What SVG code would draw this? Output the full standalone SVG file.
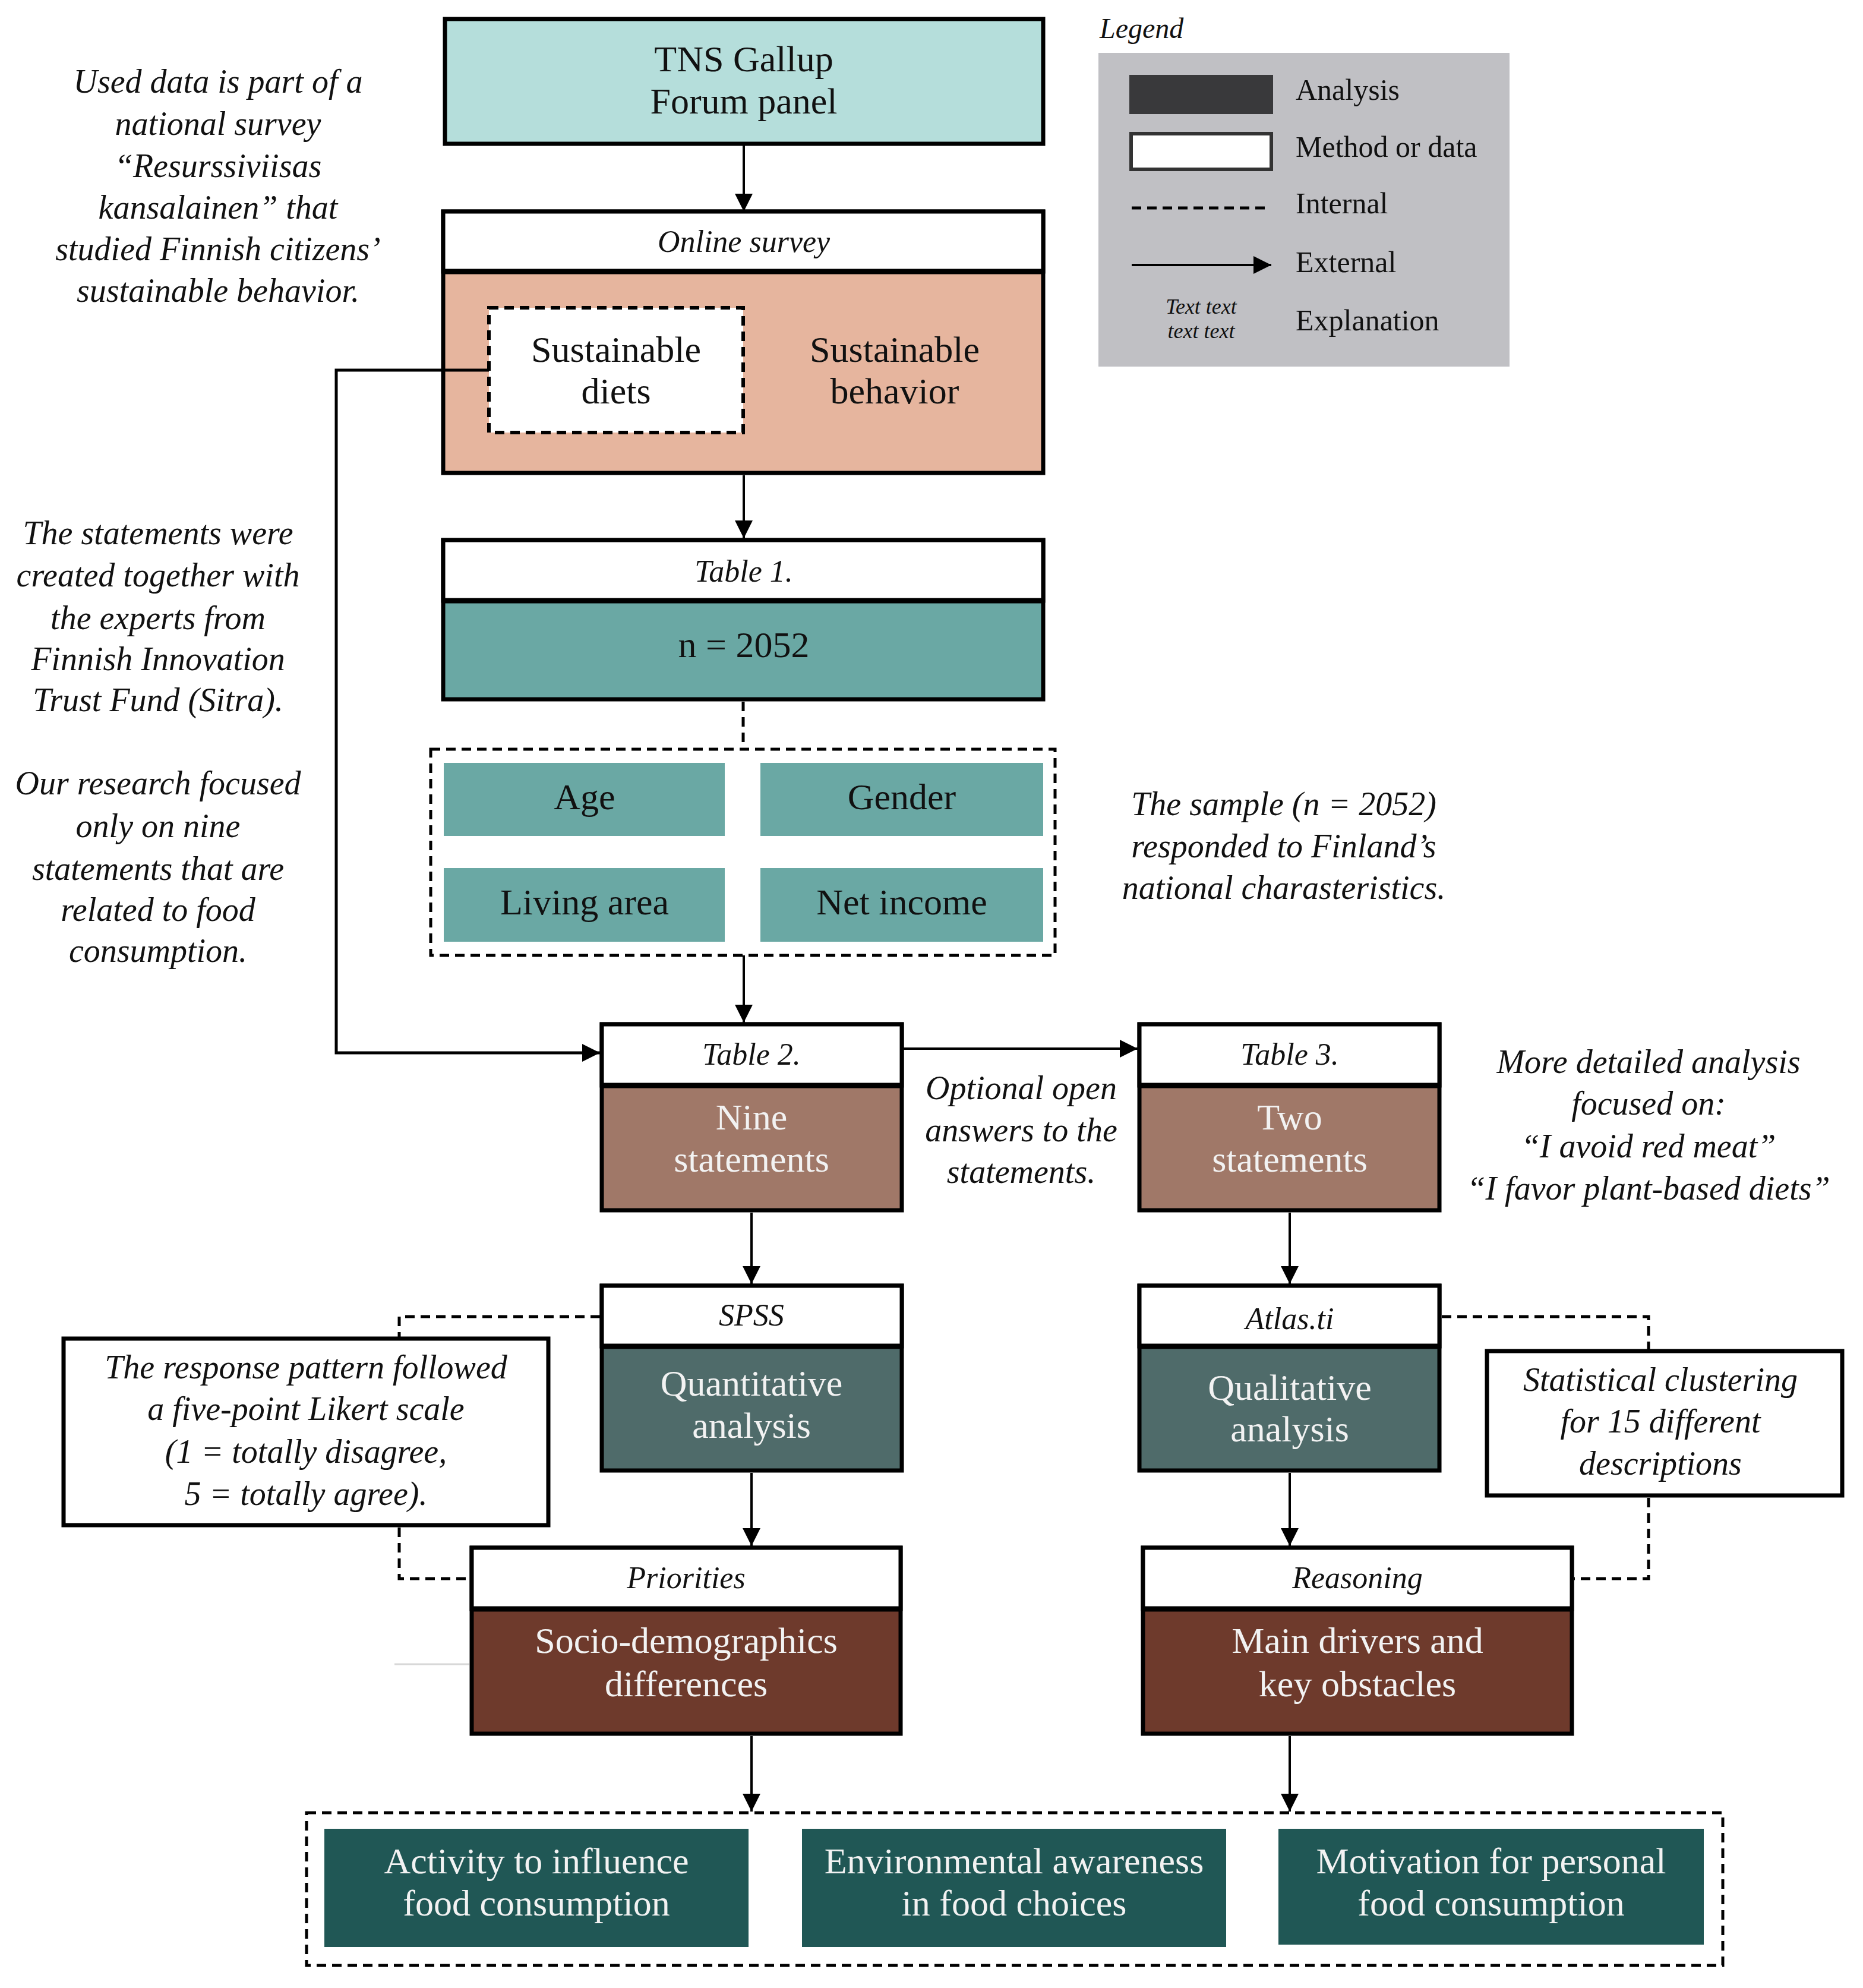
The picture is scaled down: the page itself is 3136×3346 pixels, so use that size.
<svg xmlns="http://www.w3.org/2000/svg" width="3136" height="3346" viewBox="0 0 3136 3346">
<style>
text{font-family:"Liberation Serif","Times New Roman",serif;text-anchor:middle;fill:#111}
.it{font-style:italic}
.note{font-style:italic;font-size:56px}
.hdr{font-style:italic;font-size:52px}
.main{font-size:62px}
.wt{fill:#f2f2f2}
.box{stroke:#000;stroke-width:7}
.sep{stroke:#000;stroke-width:9}
.con{fill:none;stroke:#000;stroke-width:4}
.dash{fill:none;stroke:#000;stroke-width:5;stroke-dasharray:16 10}
.leg{font-size:50px;text-anchor:start}
</style>
<defs>
<marker id="ah" markerUnits="userSpaceOnUse" markerWidth="32" markerHeight="30" refX="30" refY="15" orient="auto">
<path d="M0 0 L30 15 L0 30 Z" fill="#000"/>
</marker>
</defs>
<rect width="3136" height="3346" fill="#fff"/>

<g id="notes">
<text class="note" x="367" y="156">Used data is part of a</text>
<text class="note" x="367" y="227">national survey</text>
<text class="note" x="367" y="298">“Resurssiviisas</text>
<text class="note" x="367" y="368">kansalainen” that</text>
<text class="note" x="367" y="438">studied Finnish citizens’</text>
<text class="note" x="367" y="508">sustainable behavior.</text>
<text class="note" x="266" y="916">The statements were</text>
<text class="note" x="266" y="987">created together with</text>
<text class="note" x="266" y="1059">the experts from</text>
<text class="note" x="266" y="1128">Finnish Innovation</text>
<text class="note" x="266" y="1197">Trust Fund (Sitra).</text>
<text class="note" x="266" y="1337">Our research focused</text>
<text class="note" x="266" y="1409">only on nine</text>
<text class="note" x="266" y="1481">statements that are</text>
<text class="note" x="266" y="1550">related to food</text>
<text class="note" x="266" y="1619">consumption.</text>
<text class="note" x="2161" y="1372">The sample (n = 2052)</text>
<text class="note" x="2161" y="1443">responded to Finland’s</text>
<text class="note" x="2161" y="1513">national charasteristics.</text>
<text class="note" x="1719" y="1850">Optional open</text>
<text class="note" x="1719" y="1921">answers to the</text>
<text class="note" x="1719" y="1991">statements.</text>
<text class="note" x="2775" y="1806">More detailed analysis</text>
<text class="note" x="2775" y="1876">focused on:</text>
<text class="note" x="2775" y="1948">“I avoid red meat”</text>
<text class="note" x="2775" y="2019">“I favor plant-based diets”</text>
</g>

<g id="legend">
<text class="it" x="1851" y="64" style="font-size:48px;text-anchor:start">Legend</text>
<rect x="1849" y="89" width="692" height="528" fill="#c0c0c4"/>
<rect x="1901" y="126" width="242" height="66" fill="#39393b"/>
<rect x="1904" y="225" width="236" height="60" fill="#fff" stroke="#333" stroke-width="6"/>
<line x1="1905" y1="350" x2="2135" y2="350" class="dash"/>
<line x1="1905" y1="446" x2="2140" y2="446" class="con" stroke-width="5" marker-end="url(#ah)"/>
<text class="it" x="2022" y="528" style="font-size:36px">Text text</text>
<text class="it" x="2022" y="569" style="font-size:36px">text text</text>
<text class="leg" x="2181" y="168">Analysis</text>
<text class="leg" x="2181" y="264">Method or data</text>
<text class="leg" x="2181" y="359">Internal</text>
<text class="leg" x="2181" y="458">External</text>
<text class="leg" x="2181" y="556">Explanation</text>
</g>

<g id="tns">
<rect class="box" x="749" y="32" width="1007" height="210" fill="#b5dedb"/>
<text class="main" x="1252" y="120">TNS Gallup</text>
<text class="main" x="1252" y="191">Forum panel</text>
</g>

<g id="online-survey">
<rect class="box" x="746" y="356" width="1010" height="440" fill="#e6b59e"/>
<rect x="746" y="356" width="1010" height="101" fill="#fff" class="box"/>
<line class="sep" x1="746" y1="457" x2="1756" y2="457"/>
<text class="hdr" x="1252" y="424">Online survey</text>
<text class="main" x="1506" y="609">Sustainable</text>
<text class="main" x="1506" y="679">behavior</text>
</g>

<g id="sustainable-diets">
<rect x="823" y="518" width="428" height="210" class="dash" style="fill:#fff;stroke-width:6"/>
<text class="main" x="1037" y="609">Sustainable</text>
<text class="main" x="1037" y="679">diets</text>
</g>

<g id="table1">
<rect class="box" x="746" y="909" width="1010" height="268" fill="#6aa8a4"/>
<rect class="box" x="746" y="909" width="1010" height="102" fill="#fff"/>
<line class="sep" x1="746" y1="1011" x2="1756" y2="1011"/>
<text class="hdr" x="1252" y="979">Table 1.</text>
<text class="main" x="1252" y="1106">n = 2052</text>
</g>

<g id="demographics">
<rect x="725" y="1261" width="1051" height="347" class="dash"/>
<rect x="747" y="1284" width="473" height="123" fill="#6aa8a4"/>
<rect x="1280" y="1284" width="476" height="123" fill="#6aa8a4"/>
<rect x="747" y="1461" width="473" height="124" fill="#6aa8a4"/>
<rect x="1280" y="1461" width="476" height="124" fill="#6aa8a4"/>
<text class="main" x="984" y="1362">Age</text>
<text class="main" x="1518" y="1362">Gender</text>
<text class="main" x="984" y="1539">Living area</text>
<text class="main" x="1518" y="1539">Net income</text>
</g>

<g id="table2">
<rect class="box" x="1013" y="1724" width="505" height="313" fill="#a07868"/>
<rect class="box" x="1013" y="1724" width="505" height="103" fill="#fff"/>
<line class="sep" x1="1013" y1="1827" x2="1518" y2="1827"/>
<text class="hdr" x="1265" y="1792">Table 2.</text>
<text class="main wt" x="1265" y="1901">Nine</text>
<text class="main wt" x="1265" y="1972">statements</text>
</g>

<g id="table3">
<rect class="box" x="1918" y="1724" width="505" height="313" fill="#a07868"/>
<rect class="box" x="1918" y="1724" width="505" height="103" fill="#fff"/>
<line class="sep" x1="1918" y1="1827" x2="2423" y2="1827"/>
<text class="hdr" x="2171" y="1792">Table 3.</text>
<text class="main wt" x="2171" y="1901">Two</text>
<text class="main wt" x="2171" y="1972">statements</text>
</g>

<g id="spss">
<rect class="box" x="1013" y="2164" width="505" height="311" fill="#4f6b6a"/>
<rect class="box" x="1013" y="2164" width="505" height="102" fill="#fff"/>
<line class="sep" x1="1013" y1="2266" x2="1518" y2="2266"/>
<text class="hdr" x="1265" y="2231">SPSS</text>
<text class="main wt" x="1265" y="2349">Quantitative</text>
<text class="main wt" x="1265" y="2420">analysis</text>
</g>

<g id="atlas">
<rect class="box" x="1918" y="2164" width="505" height="311" fill="#4f6b6a"/>
<rect class="box" x="1918" y="2164" width="505" height="102" fill="#fff"/>
<line class="sep" x1="1918" y1="2266" x2="2423" y2="2266"/>
<text class="hdr" x="2171" y="2237">Atlas.ti</text>
<text class="main wt" x="2171" y="2356">Qualitative</text>
<text class="main wt" x="2171" y="2426">analysis</text>
</g>

<g id="likert">
<rect class="box" x="107" y="2253" width="816" height="314" fill="#fff"/>
<text class="note" x="515" y="2320">The response pattern followed</text>
<text class="note" x="515" y="2390">a five-point Likert scale</text>
<text class="note" x="515" y="2462">(1 = totally disagree,</text>
<text class="note" x="515" y="2533">5 = totally agree).</text>
</g>

<g id="clustering">
<rect class="box" x="2503" y="2274" width="598" height="243" fill="#fff"/>
<text class="note" x="2795" y="2341">Statistical clustering</text>
<text class="note" x="2795" y="2411">for 15 different</text>
<text class="note" x="2795" y="2482">descriptions</text>
</g>

<g id="priorities">
<rect class="box" x="794" y="2605" width="722" height="313" fill="#6e3a2c"/>
<rect class="box" x="794" y="2605" width="722" height="103" fill="#fff"/>
<line class="sep" x1="794" y1="2708" x2="1516" y2="2708"/>
<text class="hdr" x="1155" y="2673">Priorities</text>
<text class="main wt" x="1155" y="2782">Socio-demographics</text>
<text class="main wt" x="1155" y="2855">differences</text>
</g>

<g id="reasoning">
<rect class="box" x="1924" y="2605" width="722" height="313" fill="#6e3a2c"/>
<rect class="box" x="1924" y="2605" width="722" height="103" fill="#fff"/>
<line class="sep" x1="1924" y1="2708" x2="2646" y2="2708"/>
<text class="hdr" x="2285" y="2673">Reasoning</text>
<text class="main wt" x="2285" y="2782">Main drivers and</text>
<text class="main wt" x="2285" y="2855">key obstacles</text>
</g>

<g id="outcomes">
<rect x="516" y="3051" width="2384" height="257" class="dash"/>
<rect x="546" y="3078" width="714" height="199" fill="#205755"/>
<rect x="1350" y="3078" width="714" height="199" fill="#205755"/>
<rect x="2152" y="3078" width="716" height="195" fill="#205755"/>
<text class="main wt" x="903" y="3153">Activity to influence</text>
<text class="main wt" x="903" y="3224">food consumption</text>
<text class="main wt" x="1707" y="3153">Environmental awareness</text>
<text class="main wt" x="1707" y="3224">in food choices</text>
<text class="main wt" x="2510" y="3153">Motivation for personal</text>
<text class="main wt" x="2510" y="3224">food consumption</text>
</g>

<g id="connectors">
<path class="con" d="M1252 245 V356" marker-end="url(#ah)"/>
<path class="con" d="M1252 800 V906" marker-end="url(#ah)"/>
<path class="dash" d="M1251 1181 V1261"/>
<path class="con" d="M1252 1608 V1721" marker-end="url(#ah)"/>
<path class="con" d="M823 623 H566 V1772 H1010" marker-end="url(#ah)" style="stroke-width:5"/>
<path class="con" d="M1521 1765 H1915" marker-end="url(#ah)"/>
<path class="con" d="M1265 2041 V2161" marker-end="url(#ah)"/>
<path class="con" d="M2171 2041 V2161" marker-end="url(#ah)"/>
<path class="con" d="M1265 2479 V2602" marker-end="url(#ah)"/>
<path class="con" d="M2171 2479 V2602" marker-end="url(#ah)"/>
<path class="con" d="M1265 2922 V3049" marker-end="url(#ah)"/>
<path class="con" d="M2171 2922 V3049" marker-end="url(#ah)"/>
<path class="dash" d="M1010 2216 H672 V2250"/>
<path class="dash" d="M672 2571 V2657 H791"/>
<path class="dash" d="M2427 2216 H2775 V2271"/>
<path class="dash" d="M2775 2521 V2657 H2650"/>
<line x1="664" y1="2801" x2="790" y2="2801" stroke="#d8d8d8" stroke-width="3"/>
</g>
</svg>
